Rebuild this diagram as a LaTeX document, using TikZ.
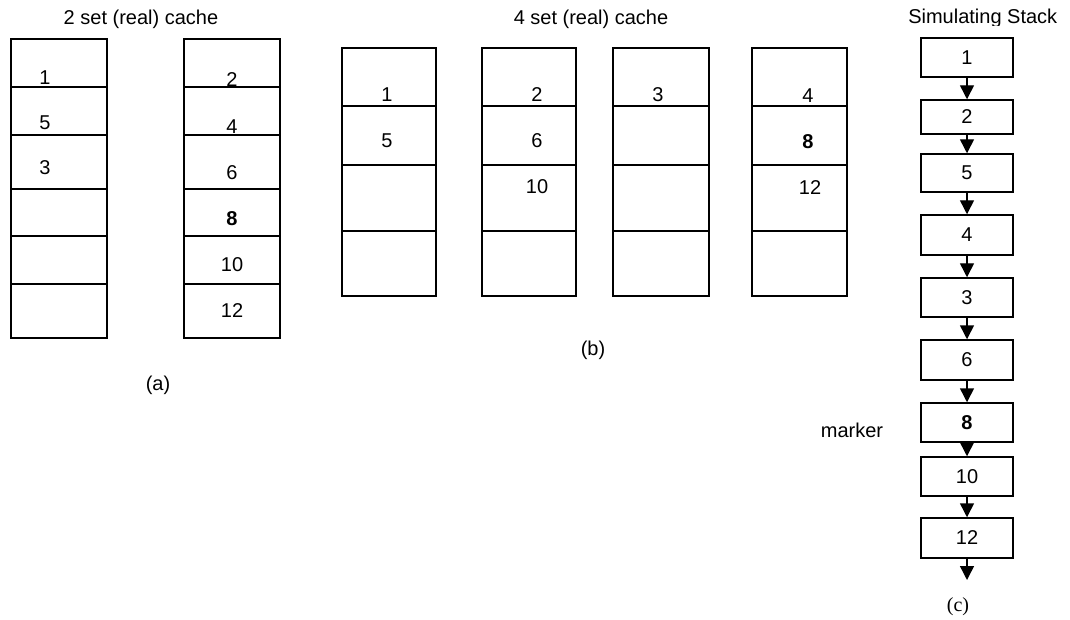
\documentclass[tikz,border=0pt]{standalone}
\usepackage{fontspec}
\setmainfont{Liberation Sans}
\newfontfamily\timesf{Liberation Serif}
\usetikzlibrary{arrows.meta}
\begin{document}
\begin{tikzpicture}[x=0.75pt,y=-0.75pt,
  font=\fontsize{15}{18}\selectfont,
  cellline/.style={draw, line width=1.1pt},
  lbl/.style={inner sep=0pt, anchor=center},
  stk/.style={draw, line width=1.1pt, minimum width=69pt, minimum height=#1*0.75pt, inner sep=0pt},
  arr/.style={line width=1.1pt, -{Triangle[width=10.5pt,length=10.5pt]}}]
\useasboundingbox (0,0) rectangle (1070,620);

% ---------- (a) 2 set cache ----------
\node[anchor=base] (ta) at (141,25) {2 set (real) cache};
\foreach \xl/\xr in {11/107,184/280}{
  \draw[cellline] (\xl,39) rectangle (\xr,338);
  \foreach \yy in {87,135,189,236,284}{\draw[cellline] (\xl,\yy) -- (\xr,\yy);}
}
\node[lbl] (a1) at (45,77.5) {1};
\node[lbl] (a5) at (45,122.5) {5};
\node[lbl] (a3) at (45,168) {3};
\node[lbl] (a2) at (232,80) {2};
\node[lbl] (a4) at (232,126.5) {4};
\node[lbl] (a6) at (232,173) {6};
\node[lbl] (a8) at (232,219) {\textbf{8}};
\node[lbl] (a10) at (232,265) {10};
\node[lbl] (a12) at (232,311) {12};
\node[lbl] (capa) at (158,385) {(a)};

% ---------- (b) 4 set cache ----------
\node[anchor=base] (tb) at (591,25) {4 set (real) cache};
\foreach \xl/\xr in {342/436,482/576,613/709,752/847}{
  \draw[cellline] (\xl,48) rectangle (\xr,296);
  \foreach \yy in {106,165,231}{\draw[cellline] (\xl,\yy) -- (\xr,\yy);}
}
\node[lbl] (b1) at (387,95) {1};
\node[lbl] (b5) at (387,141) {5};
\node[lbl] (b2) at (537,95) {2};
\node[lbl] (b6) at (537,141) {6};
\node[lbl] (b10) at (537,187) {10};
\node[lbl] (b3) at (658,95) {3};
\node[lbl] (b4) at (808,95.5) {4};
\node[lbl] (b8) at (808,141.5) {\textbf{8}};
\node[lbl] (b12) at (810,187.5) {12};
\node[lbl] (capb) at (593,350) {(b)};

% ---------- (c) simulating stack ----------
\begin{scope}
  \clip (880,0) rectangle (1070,25.5);
  \node[anchor=base west, inner sep=0pt] (tc) at (908,24) {Simulating Stack};
\end{scope}
\node[stk=39] (s1) at (967,57.5) {1};
\node[stk=34] (s2) at (967,117) {2};
\node[stk=38] (s5) at (967,173) {5};
\node[stk=40] (s4) at (967,235) {4};
\node[stk=39] (s3) at (967,297.5) {3};
\node[stk=40] (s6) at (967,360) {6};
\node[stk=39] (s8) at (967,422.5) {\textbf{8}};
\node[stk=39] (s10) at (967,476.5) {10};
\node[stk=40] (s12) at (967,538) {12};
\coordinate (send) at (967,580);
\draw[arr] (s1.south) -- (s2.north);
\draw[arr] (s2.south) -- (s5.north);
\draw[arr] (s5.south) -- (s4.north);
\draw[arr] (s4.south) -- (s3.north);
\draw[arr] (s3.south) -- (s6.north);
\draw[arr] (s6.south) -- (s8.north);
\draw[arr] (s8.south) -- (s10.north);
\draw[arr] (s10.south) -- (s12.north);
\draw[arr] (s12.south) -- (send);
\node[lbl] (mk) at (852,430) {marker};
\node[lbl, font=\timesf\fontsize{15}{18}\selectfont] (capc) at (958,607) {(c)};
\end{tikzpicture}
\end{document}
